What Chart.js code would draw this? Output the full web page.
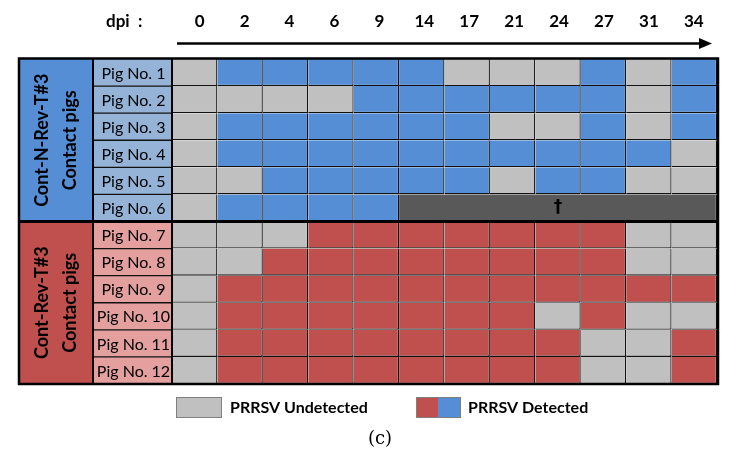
<!DOCTYPE html>
<html>
<head>
<meta charset="utf-8">
<script src="https://cdn.jsdelivr.net/npm/chart.js@4"></script>
<style>
  html, body { margin: 0; padding: 0; background: #fff; }
  #grafico { display: block; }
</style>
</head>
<body>
<canvas id="grafico" width="736" height="462"></canvas>
<script>
// ================= DATA =================
const dpi = ["0", "2", "4", "6", "9", "14", "17", "21", "24", "27", "31", "34"];

const pigs = [
  "Pig No. 1", "Pig No. 2", "Pig No. 3", "Pig No. 4", "Pig No. 5", "Pig No. 6",
  "Pig No. 7", "Pig No. 8", "Pig No. 9", "Pig No. 10", "Pig No. 11", "Pig No. 12"
];

const groups = [
  ["Cont-N-Rev-T#3", "Contact pigs"],
  ["Cont-Rev-T#3", "Contact pigs"]
];
const grupoDoPorco = [0, 0, 0, 0, 0, 0, 1, 1, 1, 1, 1, 1];

// 1 = PRRSV detected, 0 = undetected, null = dead (†)
const status = [
  [0, 1, 1, 1, 1, 1, 0, 0, 0, 1, 0, 1],
  [0, 0, 0, 0, 1, 1, 1, 1, 1, 1, 0, 1],
  [0, 1, 1, 1, 1, 1, 1, 0, 0, 1, 0, 1],
  [0, 1, 1, 1, 1, 1, 1, 1, 1, 1, 1, 0],
  [0, 0, 1, 1, 1, 1, 1, 0, 1, 1, 0, 0],
  [0, 1, 1, 1, 1, null, null, null, null, null, null, null],
  [0, 0, 0, 1, 1, 1, 1, 1, 1, 1, 0, 0],
  [0, 0, 1, 1, 1, 1, 1, 1, 1, 1, 0, 0],
  [0, 1, 1, 1, 1, 1, 1, 1, 1, 1, 1, 1],
  [0, 1, 1, 1, 1, 1, 1, 1, 0, 1, 0, 0],
  [0, 1, 1, 1, 1, 1, 1, 1, 1, 0, 0, 1],
  [0, 1, 1, 1, 1, 1, 1, 1, 1, 0, 0, 1]
];

const legendLabels = ["PRRSV Undetected", "PRRSV Detected"];

// ================= CORES =================
const CINZA = "#c0c0c0";
const MORTO = "#595959";
const corDetectado = ["#558ed5", "#c0504d"];
const corRotulo = ["#95b3d7", "#e3a09f"];
const LINHA = "#111";
const FONTE = "Lato, 'Open Sans', sans-serif";

// ================= DATASETS =================
const celulas = {
  borderColor: LINHA,
  borderWidth: { top: 0, left: 0, right: 1.3, bottom: 1.3 },
  borderSkipped: false,
  inflateAmount: 0,
  grouped: false,
  barPercentage: 1,
  categoryPercentage: 1
};

const datasets = dpi.map((d, c) => ({
  ...celulas,
  label: d + " dpi",
  data: status.map(row => row[c] === null ? null : [c, c + 1]),
  backgroundColor: status.map((row, r) => row[c] ? corDetectado[grupoDoPorco[r]] : CINZA)
}));

// dead pigs: band from first missing sample to the end
datasets.push({
  ...celulas,
  label: "dead",
  data: status.map(row => {
    const i = row.indexOf(null);
    return i < 0 ? null : [i, dpi.length];
  }),
  backgroundColor: MORTO
});
const MORTO_IDX = datasets.length - 1;

// ================= DESENHO EXTRA =================
const desenho = {
  id: "desenho",
  beforeDraw(chart) {
    const c = chart.ctx;
    c.save();
    c.fillStyle = "#fff";
    c.fillRect(0, 0, chart.width, chart.height);
    c.restore();
  },
  afterDatasetsDraw(chart) {
    const c = chart.ctx;
    const area = chart.chartArea;
    const xs = chart.scales.x;
    const ys = chart.scales.y;
    const band = ys.getPixelForValue(1) - ys.getPixelForValue(0);
    const pigLeft = area.left - 79;
    const grpLeft = pigLeft - 74;
    const topo = r => ys.getPixelForValue(r) - band / 2;

    c.save();

    // coluna dos porcos
    pigs.forEach((p, r) => {
      c.fillStyle = corRotulo[grupoDoPorco[r]];
      c.fillRect(pigLeft, topo(r), area.left - pigLeft, band);
      c.fillStyle = "#000";
      c.font = "16px " + FONTE;
      c.textAlign = "center";
      c.textBaseline = "middle";
      c.fillText(p, (pigLeft + area.left) / 2 + 1, ys.getPixelForValue(r) + 1);
      if (r > 0) {
        c.strokeStyle = LINHA;
        c.lineWidth = 1.3;
        c.beginPath();
        c.moveTo(pigLeft, topo(r));
        c.lineTo(area.left, topo(r));
        c.stroke();
      }
    });

    // coluna dos grupos
    groups.forEach((g, gi) => {
      const rows = grupoDoPorco.map((v, i) => v === gi ? i : -1).filter(i => i >= 0);
      const y0 = topo(rows[0]);
      const y1 = topo(rows[rows.length - 1]) + band;
      c.fillStyle = corDetectado[gi];
      c.fillRect(grpLeft, y0, pigLeft - grpLeft, y1 - y0);
      c.save();
      c.translate((grpLeft + pigLeft) / 2, (y0 + y1) / 2);
      c.rotate(-Math.PI / 2);
      c.fillStyle = "#000";
      c.font = "bold 18px " + FONTE;
      c.textAlign = "center";
      c.textBaseline = "middle";
      c.fillText(g[0], 0, -14);
      c.fillText(g[1], 0, 14);
      c.restore();
    });

    // dagger nos mortos
    chart.getDatasetMeta(MORTO_IDX).data.forEach((el, r) => {
      if (!datasets[MORTO_IDX].data[r]) return;
      c.fillStyle = "#000";
      c.font = "bold 17px 'DejaVu Sans', sans-serif";
      c.textAlign = "center";
      c.textBaseline = "middle";
      c.fillText("\u2020", (el.x + el.base) / 2, el.y);
    });

    // linhas grossas
    c.strokeStyle = "#000";
    c.lineWidth = 2;
    c.beginPath();
    c.moveTo(pigLeft, area.top);
    c.lineTo(pigLeft, area.bottom);
    c.moveTo(area.left, area.top);
    c.lineTo(area.left, area.bottom);
    c.stroke();
    c.lineWidth = 3;
    const sep = topo(grupoDoPorco.indexOf(1));
    c.beginPath();
    c.moveTo(grpLeft, sep);
    c.lineTo(area.right + 1, sep);
    c.stroke();
    c.lineWidth = 2.5;
    c.strokeRect(grpLeft, area.top - 0.5, area.right + 1 - grpLeft, area.bottom - area.top + 0.5);

    // cabeçalho dpi
    c.fillStyle = "#000";
    c.font = "bold 17px " + FONTE;
    c.textBaseline = "middle";
    c.textAlign = "left";
    c.fillText("dpi  :", 106, 22);
    c.textAlign = "center";
    dpi.forEach((d, i) => {
      c.fillText(d, xs.getPixelForValue(i + 0.5) + 5 - i * 0.5, 22);
    });

    // seta
    c.lineWidth = 2.5;
    c.beginPath();
    c.moveTo(177, 43.5);
    c.lineTo(700, 43.5);
    c.stroke();
    c.beginPath();
    c.moveTo(712, 43.5);
    c.lineTo(699, 38);
    c.lineTo(699, 49);
    c.closePath();
    c.fill();

    // legenda
    c.lineWidth = 1;
    c.strokeStyle = "#7f7f7f";
    c.fillStyle = CINZA;
    c.fillRect(176, 397, 45, 20);
    c.strokeRect(176.5, 397.5, 45, 20);
    c.fillStyle = corDetectado[1];
    c.fillRect(416, 397, 22, 20);
    c.fillStyle = corDetectado[0];
    c.fillRect(438, 397, 22, 20);
    c.strokeRect(416.5, 397.5, 44, 20);
    c.fillStyle = "#000";
    c.font = "bold 16px " + FONTE;
    c.textAlign = "left";
    c.fillText(legendLabels[0], 230, 408);
    c.fillText(legendLabels[1], 468, 408);

    c.font = "18px 'DejaVu Serif', serif";
    c.textAlign = "center";
    c.fillText("(c)", 380, 439);

    c.restore();
  }
};

// ================= GRÁFICO =================
const ctx = document.getElementById("grafico").getContext("2d");

const grafico = new Chart(ctx, {
  type: "bar",
  data: { labels: pigs, datasets },
  options: {
    indexAxis: "y",
    responsive: false,
    animation: false,
    devicePixelRatio: 1,
    layout: { padding: { left: 172, right: 19, top: 59, bottom: 78 } },
    scales: {
      x: { type: "linear", min: 0, max: dpi.length, display: false },
      y: { type: "category", display: false }
    },
    plugins: {
      legend: { display: false },
      tooltip: { enabled: false }
    }
  },
  plugins: [desenho]
});
</script>
</body>
</html>
